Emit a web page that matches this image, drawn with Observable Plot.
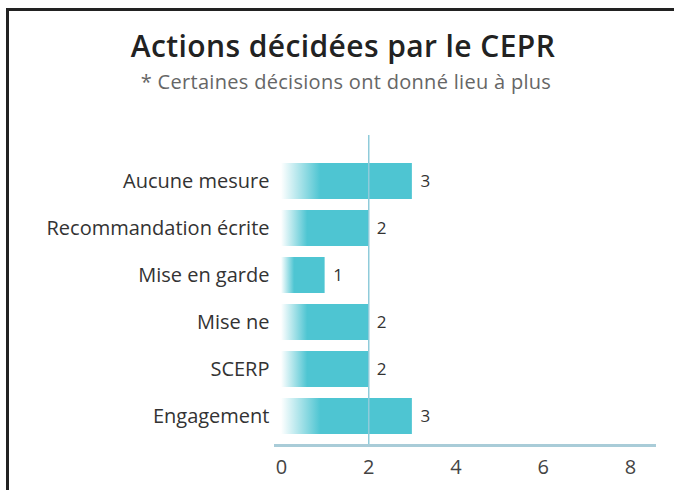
<!DOCTYPE html>
<html>
<head>
<meta charset="utf-8">
<script src="https://cdn.jsdelivr.net/npm/d3@7"></script>
<script src="https://cdn.jsdelivr.net/npm/@observablehq/plot@0.6"></script>
<style>
  html, body { margin: 0; padding: 0; background: #fff; }
  body { width: 674px; height: 490px; position: relative; overflow: hidden; font-family: "Open Sans", sans-serif; }
  #frame { position: absolute; left: 6px; top: 8px; width: 668px; height: 482px; border-left: 3px solid #222; border-top: 3px solid #222; box-sizing: border-box; }
  #title { position: absolute; left: 9px; width: 668px; top: 31px; text-align: center; font-size: 30px; line-height: 30px; letter-spacing: 0.4px; font-weight: 600; color: #222; }
  #subtitle { position: absolute; left: 9px; width: 674px; top: 72px; text-align: center; font-size: 20px; line-height: 20px; letter-spacing: 0.3px; color: #666; }
  #chart { position: absolute; left: 0; top: 120px; }
</style>
</head>
<body>
<div id="frame"></div>
<div id="title">Actions décidées par le CEPR</div>
<div id="subtitle">* Certaines décisions ont donné lieu à plus</div>
<div id="chart"></div>
<script>
const categories = ["Aucune mesure", "Recommandation écrite", "Mise en garde", "Mise ne", "SCERP", "Engagement"];
const values = [3, 2, 1, 2, 2, 3];
const xTicks = [0, 2, 4, 6, 8];
const refValue = 2;

const data = categories.map((c, i) => ({category: c, value: values[i]}));

const teal = "#4EC5D2";

const plot = Plot.plot({
  width: 674,
  height: 370,
  marginLeft: 281,
  marginRight: 44,
  marginTop: 31,
  marginBottom: 45,
  style: {fontFamily: "'Open Sans', sans-serif", background: "transparent"},
  x: {domain: [0, 8], ticks: xTicks, tickSize: 0, label: null},
  y: {domain: categories, padding: 0.24, tickSize: 0, label: null},
  marks: [
    Plot.barX(data, {x: "value", y: "category", fill: "url(#barGrad)"}),
    Plot.ruleX([refValue], {stroke: "#8FCBDA", strokeWidth: 1.5, insetTop: -16, insetBottom: 0}),
    Plot.frame({anchor: "bottom", stroke: "#A9CCD8", strokeWidth: 3, insetLeft: -6, insetRight: -24}),
    Plot.text(data, {x: "value", y: "category", text: d => String(d.value), dx: 8, textAnchor: "start", fontSize: 17, fill: "#333"}),
    Plot.axisY({tickSize: 0, tickPadding: 12, fontSize: 20, fill: "#333", label: null}),
    Plot.axisX({ticks: xTicks, tickSize: 0, tickPadding: 14, fontSize: 20, fill: "#444", label: null})
  ]
});

const svg = d3.select(plot);
const defs = svg.insert("defs", ":first-child");
const grad = defs.append("linearGradient").attr("id", "barGrad")
  .attr("x1", "0").attr("x2", "1").attr("y1", "0").attr("y2", "0");
grad.append("stop").attr("offset", "0").attr("stop-color", "#ffffff");
grad.append("stop").attr("offset", "0.3").attr("stop-color", teal);
grad.append("stop").attr("offset", "1").attr("stop-color", teal);

document.getElementById("chart").appendChild(plot);
</script>
</body>
</html>
